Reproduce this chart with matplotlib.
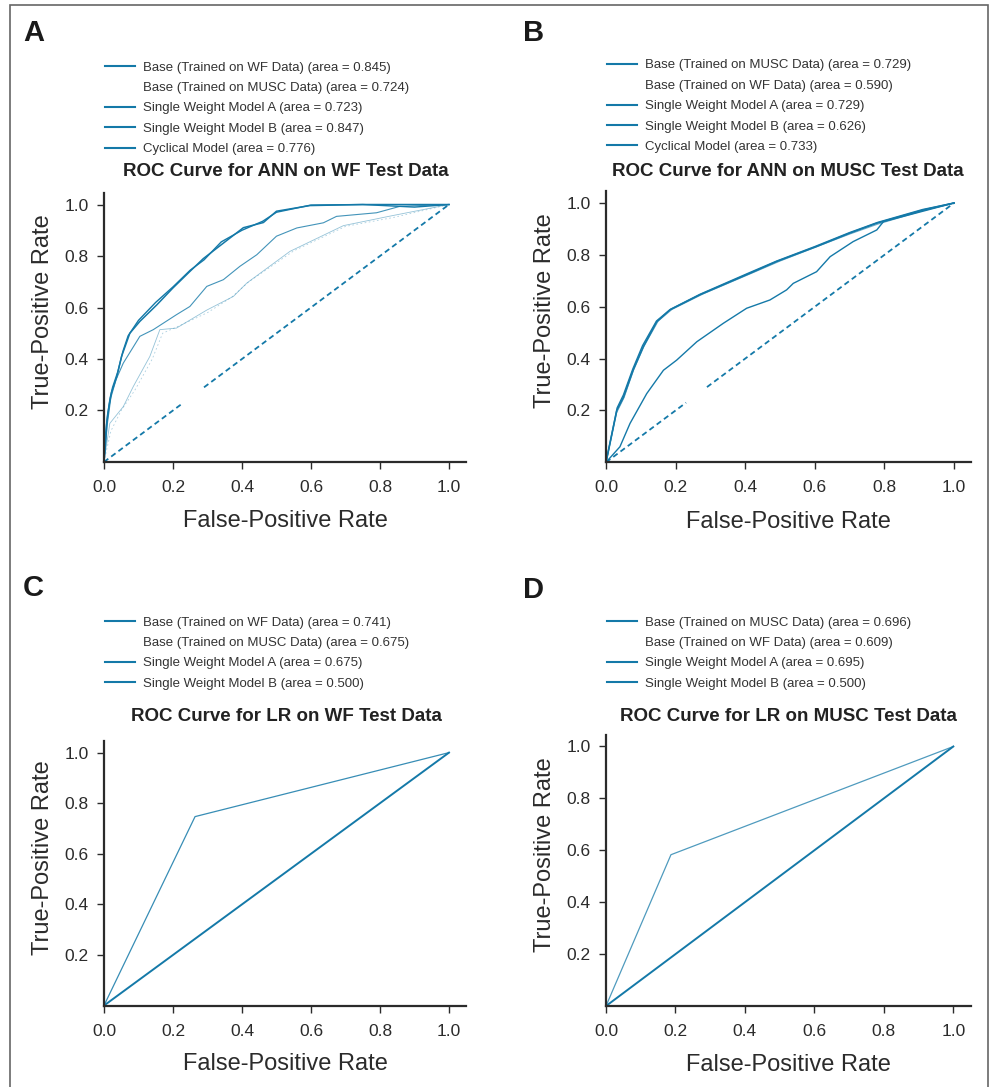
import matplotlib
matplotlib.use("Agg")
import matplotlib.pyplot as plt
from matplotlib.lines import Line2D
import numpy as np

# ---- data ----
# diagonal chance line (with the small gap seen in the original)
diag_x = [0, 0.23, np.nan, 0.29, 1.0]
diag_y = [0, 0.23, np.nan, 0.29, 1.0]

# A: ANN on WF test data
a_base_wf_fpr = [0, .005, .008, .015, .022, .037, .051, .075, .104, .153, .20, .249, .288, .346, .404, .462, .50, .597, .75, .90, 1]
a_base_wf_tpr = [0, .08, .15, .22, .27, .33, .41, .50, .546, .61, .676, .74, .79, .85, .91, .93, .974, .996, 1.0, 1.0, 1]
a_swb_fpr = [0, .004, .01, .018, .025, .04, .055, .07, .10, .15, .20, .25, .29, .34, .40, .46, .50, .60, .75, .90, 1]
a_swb_tpr = [0, .10, .18, .25, .29, .35, .43, .49, .55, .62, .68, .745, .785, .855, .90, .935, .97, .998, 1.0, .99, 1]
a_cyc_fpr = [0, .01, .02, .035, .056, .104, .143, .21, .249, .298, .346, .394, .443, .50, .559, .636, .674, .79, .858, 1]
a_cyc_tpr = [0, .15, .25, .32, .384, .488, .514, .572, .604, .682, .708, .76, .805, .877, .909, .929, .954, .968, .993, 1]
a_base_musc_fpr = [0, .017, .056, .085, .133, .162, .21, .298, .375, .414, .539, .694, .829, 1]
a_base_musc_tpr = [0, .15, .215, .293, .41, .514, .52, .59, .643, .695, .818, .918, .955, 1]
a_swa_fpr = [0, .02, .05, .09, .14, .17, .22, .30, .37, .42, .55, .70, .84, 1]
a_swa_tpr = [0, .12, .20, .28, .40, .50, .53, .58, .64, .70, .82, .915, .95, 1]
a_labels = ["Base (Trained on WF Data) (area = 0.845)",
            "Base (Trained on MUSC Data) (area = 0.724)",
            "Single Weight Model A (area = 0.723)",
            "Single Weight Model B (area = 0.847)",
            "Cyclical Model (area = 0.776)"]

# B: ANN on MUSC test data
b_base_musc_fpr = [0, .031, .05, .078, .107, .146, .184, .27, .414, .49, .605, .701, .778, .912, 1]
b_base_musc_tpr = [0, .20, .25, .355, .445, .542, .588, .646, .729, .774, .832, .884, .922, .973, 1]
b_swa_fpr = [0, .03, .052, .08, .11, .15, .19, .28, .42, .50, .61, .70, .78, .91, 1]
b_swa_tpr = [0, .19, .25, .36, .45, .545, .59, .65, .73, .776, .834, .88, .918, .97, 1]
b_cyc_fpr = [0, .032, .05, .077, .105, .145, .185, .27, .41, .49, .60, .70, .78, .91, 1]
b_cyc_tpr = [0, .21, .26, .36, .45, .545, .59, .648, .73, .776, .832, .886, .925, .975, 1]
b_swb_fpr = [0, .04, .069, .117, .165, .203, .261, .337, .404, .471, .519, .538, .605, .644, .71, .778, .797, 1]
b_swb_tpr = [0, .06, .15, .265, .355, .394, .465, .536, .594, .626, .665, .69, .735, .793, .851, .896, .928, 1]
b_labels = ["Base (Trained on MUSC Data) (area = 0.729)",
            "Base (Trained on WF Data) (area = 0.590)",
            "Single Weight Model A (area = 0.729)",
            "Single Weight Model B (area = 0.626)",
            "Cyclical Model (area = 0.733)"]

# C: LR on WF test data
c_base_wf_fpr = [0, 0.264, 1.0]
c_base_wf_tpr = [0, 0.747, 1.0]
c_swb_fpr = [0, 1.0]
c_swb_tpr = [0, 1.0]
c_labels = ["Base (Trained on WF Data) (area = 0.741)",
            "Base (Trained on MUSC Data) (area = 0.675)",
            "Single Weight Model A (area = 0.675)",
            "Single Weight Model B (area = 0.500)"]

# D: LR on MUSC test data
d_base_musc_fpr = [0, 0.187, 1.0]
d_base_musc_tpr = [0, 0.583, 1.0]
d_swb_fpr = [0, 1.0]
d_swb_tpr = [0, 1.0]
d_labels = ["Base (Trained on MUSC Data) (area = 0.696)",
            "Base (Trained on WF Data) (area = 0.609)",
            "Single Weight Model A (area = 0.695)",
            "Single Weight Model B (area = 0.500)"]

titles = ["ROC Curve for ANN on WF Test Data", "ROC Curve for ANN on MUSC Test Data",
          "ROC Curve for LR on WF Test Data", "ROC Curve for LR on MUSC Test Data"]
ticks_x = [0.0, 0.2, 0.4, 0.6, 0.8, 1.0]
ticks_y = [0.2, 0.4, 0.6, 0.8, 1.0]

# ---- style ----
blue = "#1479a8"
dark = "#2b2b2b"
plt.rcParams['font.family'] = ['Liberation Sans', 'DejaVu Sans']

fig = plt.figure(figsize=(9.92, 10.87), dpi=100)

# outer frame
fig.add_artist(plt.Rectangle((0.0105, -0.01), 0.996 - 0.0105, 0.9955 + 0.01,
                             transform=fig.transFigure, fill=False, ec="#666666", lw=1.2))

rects = [[0.1048, 0.5750, 0.3652, 0.2475],
         [0.6109, 0.5747, 0.3684, 0.2493],
         [0.1048, 0.0749, 0.3652, 0.2432],
         [0.6109, 0.0745, 0.3676, 0.2495]]
axes = [fig.add_axes(r) for r in rects]


def style(ax):
    ax.set_xlim(0, 1.05)
    ax.set_ylim(0, 1.045)
    ax.set_xticks(ticks_x)
    ax.set_xticklabels([f"{t:.1f}" for t in ticks_x])
    ax.set_yticks(ticks_y)
    ax.set_yticklabels([f"{t:.1f}" for t in ticks_y])
    for s in ["top", "right"]:
        ax.spines[s].set_visible(False)
    for s in ["left", "bottom"]:
        ax.spines[s].set_color(dark)
        ax.spines[s].set_linewidth(1.6)
    ax.tick_params(direction="out", length=5, width=1.0, colors=dark, labelsize=12.5)
    ax.tick_params(axis="x", pad=8)
    ax.tick_params(axis="y", pad=6)
    ax.set_xlabel("False-Positive Rate", fontsize=17, color=dark)
    ax.set_ylabel("True-Positive Rate", fontsize=17, color=dark)
    ax.xaxis.set_label_coords(0.5, -0.178)
    ax.yaxis.set_label_coords(-0.137, 0.56)


def legend(ax, labels, anchor):
    handles = []
    for i, lab in enumerate(labels):
        if i == 1:
            handles.append(Line2D([], [], color="none"))
        else:
            handles.append(Line2D([], [], color=blue, lw=1.5))
    ax.legend(handles, labels, loc="upper left", bbox_to_anchor=anchor,
              bbox_transform=fig.transFigure, frameon=False, fontsize=9.5,
              handlelength=2.3, handletextpad=0.6, labelspacing=0.62,
              borderpad=0, borderaxespad=0, labelcolor="#333333")


# A
ax = axes[0]
ax.plot(diag_x, diag_y, color=blue, lw=1.3, ls=(0, (3, 2)))
ax.plot(a_base_musc_fpr, a_base_musc_tpr, color=blue, lw=0.6, alpha=0.45)
ax.plot(a_swa_fpr, a_swa_tpr, color=blue, lw=0.6, alpha=0.35, ls=(0, (2, 3)))
ax.plot(a_cyc_fpr, a_cyc_tpr, color=blue, lw=0.8, alpha=0.8)
ax.plot(a_base_wf_fpr, a_base_wf_tpr, color=blue, lw=1.1)
ax.plot(a_swb_fpr, a_swb_tpr, color=blue, lw=1.0)
style(ax)
legend(ax, a_labels, (0.106, 0.9435))

# B
ax = axes[1]
ax.plot(diag_x, diag_y, color=blue, lw=1.3, ls=(0, (3, 2)))
ax.plot(b_swb_fpr, b_swb_tpr, color=blue, lw=1.0)
ax.plot(b_swa_fpr, b_swa_tpr, color=blue, lw=0.8, alpha=0.6)
ax.plot(b_cyc_fpr, b_cyc_tpr, color=blue, lw=1.0)
ax.plot(b_base_musc_fpr, b_base_musc_tpr, color=blue, lw=1.2)
style(ax)
legend(ax, b_labels, (0.612, 0.9456))

# C
ax = axes[2]
ax.plot(c_swb_fpr, c_swb_tpr, color=blue, lw=1.4)
ax.plot(c_base_wf_fpr, c_base_wf_tpr, color=blue, lw=0.9, alpha=0.85)
style(ax)
legend(ax, c_labels, (0.106, 0.433))

# D
ax = axes[3]
ax.plot(d_swb_fpr, d_swb_tpr, color=blue, lw=1.4)
ax.plot(d_base_musc_fpr, d_base_musc_tpr, color=blue, lw=0.9, alpha=0.75)
style(ax)
legend(ax, d_labels, (0.612, 0.433))

# titles and panel letters
title_pos = [(0.2878, 0.8418), (0.7944, 0.8418), (0.2883, 0.3404), (0.7949, 0.3404)]
for (x, y), t in zip(title_pos, titles):
    fig.text(x, y, t, ha="center", va="center", fontsize=13.5, fontweight="bold", color="#222222")
letter_pos = [(0.023, 0.970), (0.527, 0.970), (0.023, 0.459), (0.527, 0.457)]
for (x, y), t in zip(letter_pos, "ABCD"):
    fig.text(x, y, t, ha="left", va="center", fontsize=21, fontweight="bold", color="#1a1a1a")

plt.savefig("out.png", dpi=100)
